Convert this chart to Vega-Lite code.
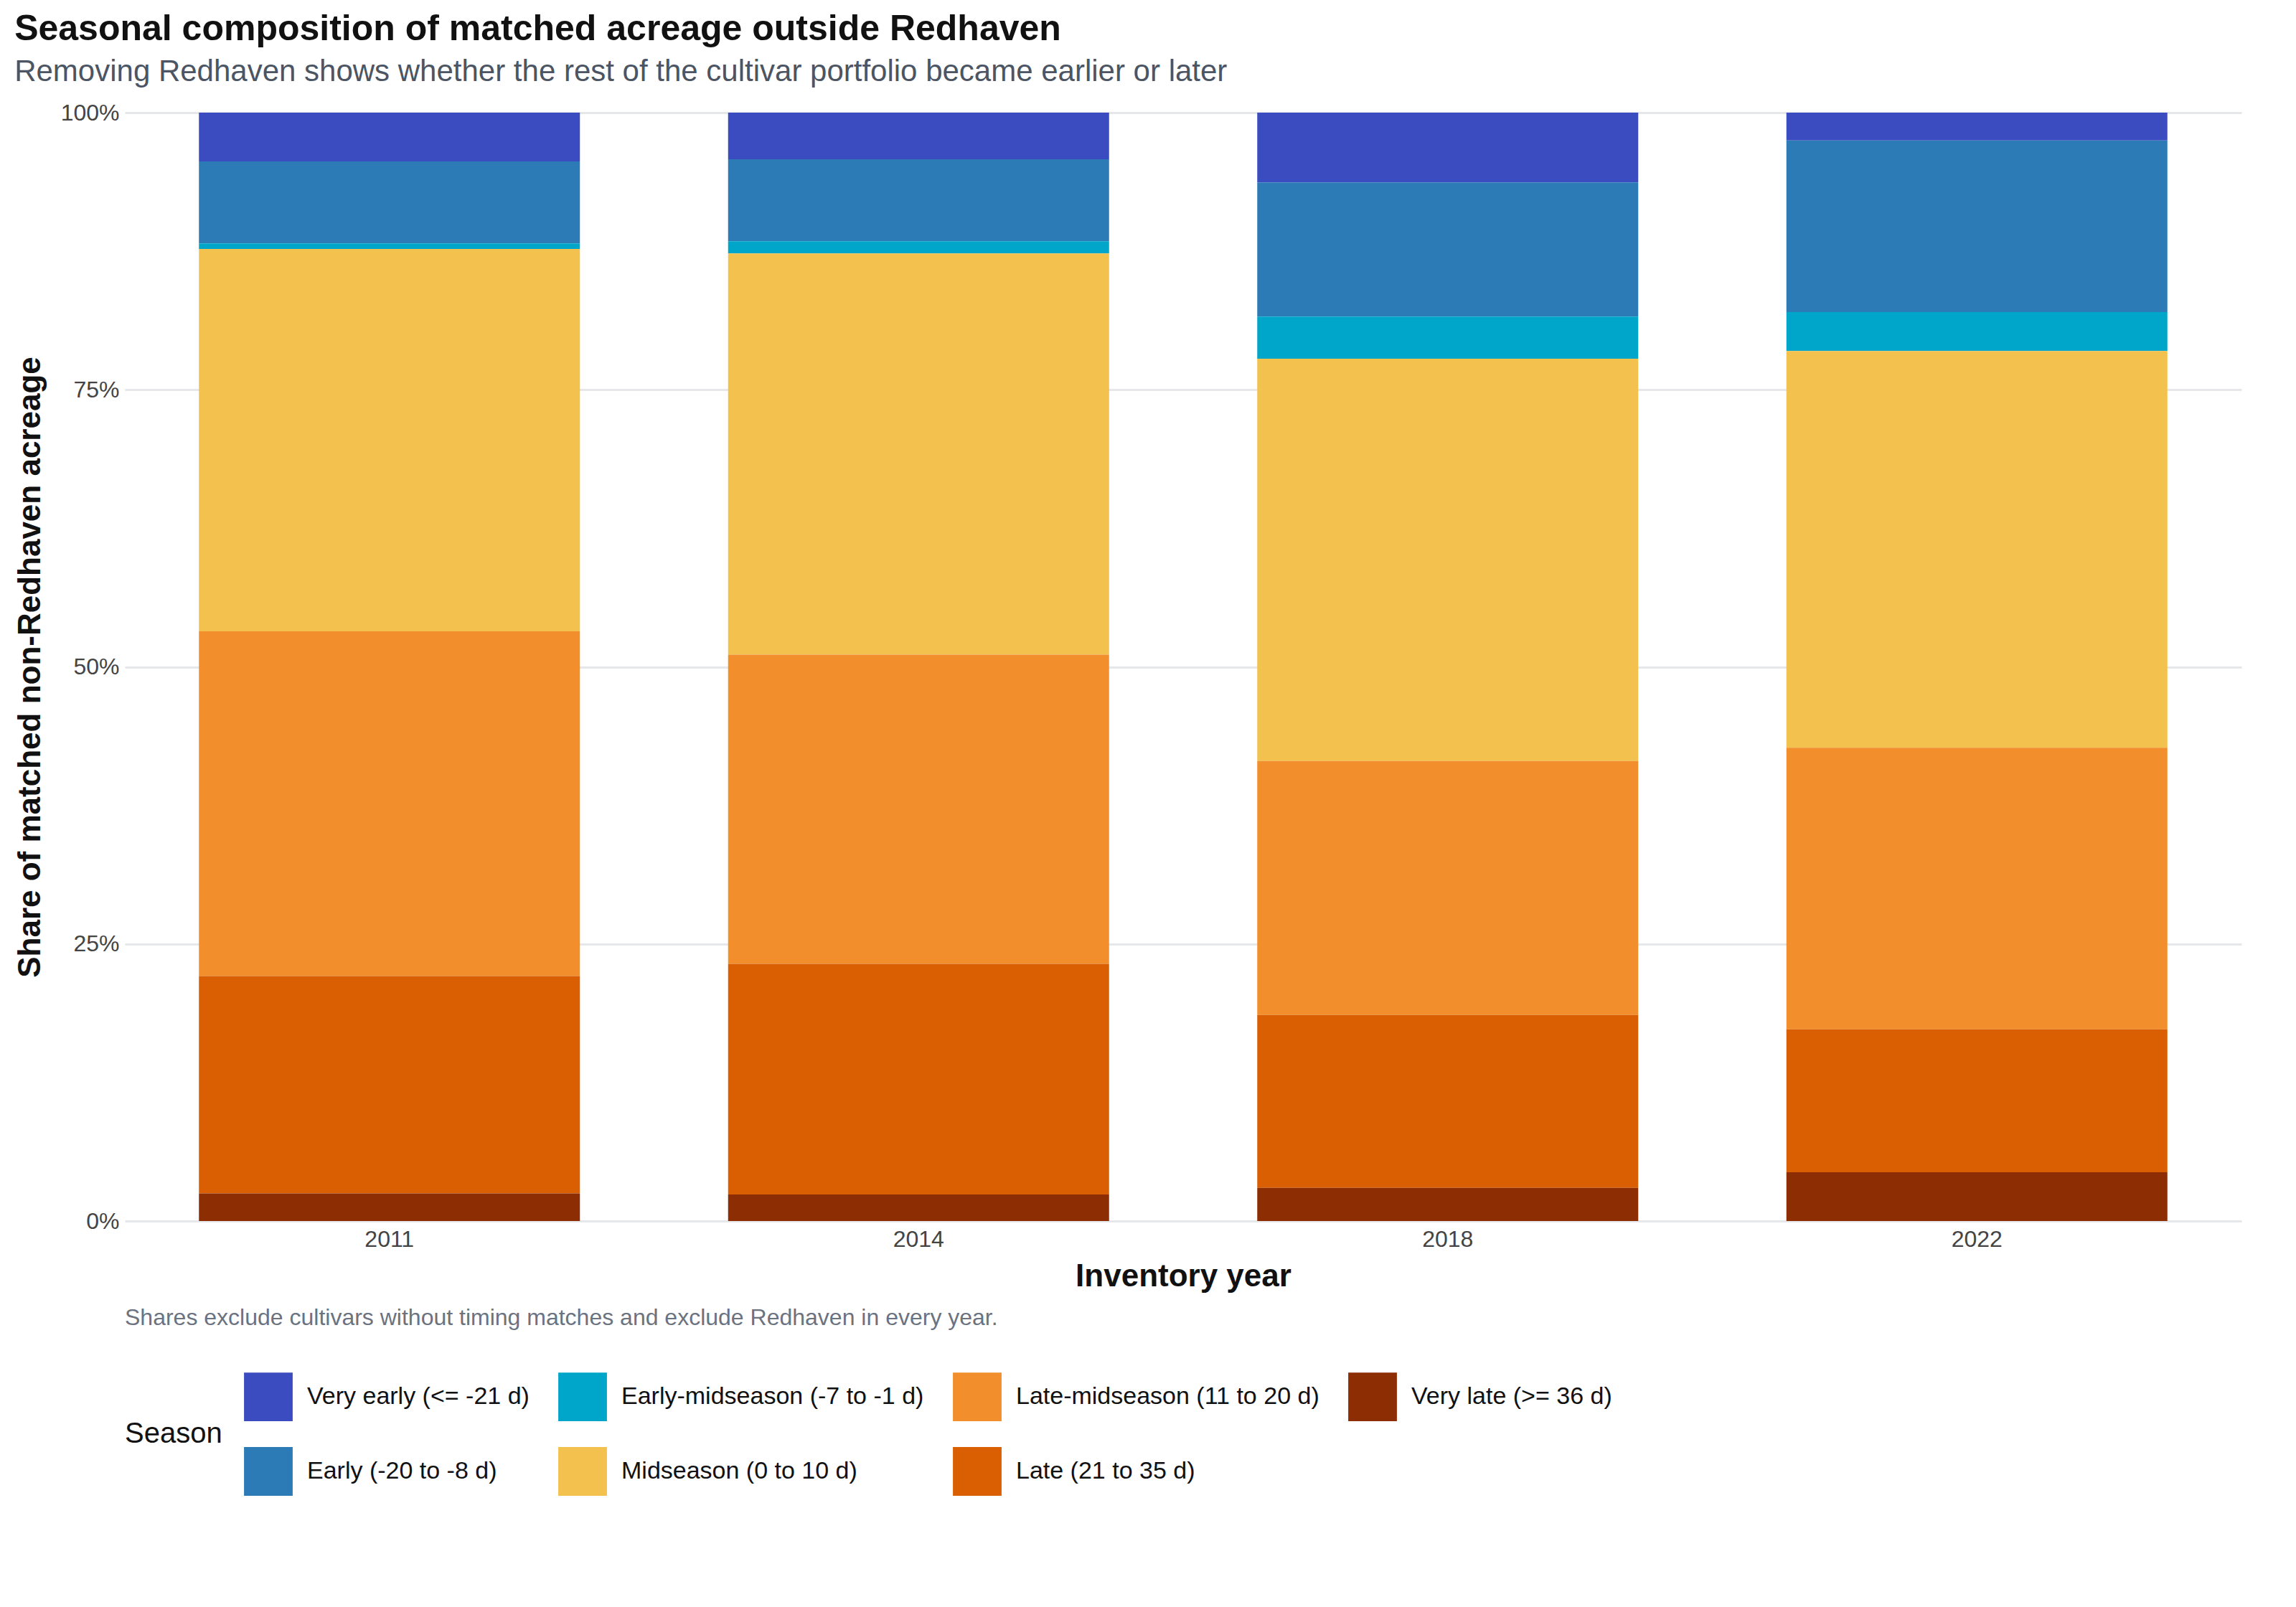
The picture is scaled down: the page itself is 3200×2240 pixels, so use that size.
{
  "$schema": "https://vega.github.io/schema/vega-lite/v6.json",
  "background": "white",
  "padding": {"left": 20, "right": 30, "top": 16, "bottom": 20},
  "title": {
    "text": "Seasonal composition of matched acreage outside Redhaven",
    "subtitle": "Removing Redhaven shows whether the rest of the cultivar portfolio became earlier or later",
    "anchor": "start", "font": "Liberation Sans", "fontSize": 50, "fontWeight": "bold", "color": "#111",
    "subtitleFont": "Liberation Sans", "subtitleFontSize": 42, "subtitleColor": "#4B5563", "subtitlePadding": 14, "offset": 20
  },
  "config": {"view": {"stroke": null}, "font": "Liberation Sans"},
  "vconcat": [
    {
      "width": 2950,
      "height": 1545,
      "data": {"values": [
        {"year": "2011", "season": "Very early (<= -21 d)", "o": 7, "share": 4.4},
        {"year": "2011", "season": "Early (-20 to -8 d)", "o": 6, "share": 7.4},
        {"year": "2011", "season": "Early-midseason (-7 to -1 d)", "o": 5, "share": 0.5},
        {"year": "2011", "season": "Midseason (0 to 10 d)", "o": 4, "share": 34.5},
        {"year": "2011", "season": "Late-midseason (11 to 20 d)", "o": 3, "share": 31.1},
        {"year": "2011", "season": "Late (21 to 35 d)", "o": 2, "share": 19.6},
        {"year": "2011", "season": "Very late (>= 36 d)", "o": 1, "share": 2.5},
        {"year": "2014", "season": "Very early (<= -21 d)", "o": 7, "share": 4.2},
        {"year": "2014", "season": "Early (-20 to -8 d)", "o": 6, "share": 7.4},
        {"year": "2014", "season": "Early-midseason (-7 to -1 d)", "o": 5, "share": 1.1},
        {"year": "2014", "season": "Midseason (0 to 10 d)", "o": 4, "share": 36.2},
        {"year": "2014", "season": "Late-midseason (11 to 20 d)", "o": 3, "share": 27.9},
        {"year": "2014", "season": "Late (21 to 35 d)", "o": 2, "share": 20.8},
        {"year": "2014", "season": "Very late (>= 36 d)", "o": 1, "share": 2.4},
        {"year": "2018", "season": "Very early (<= -21 d)", "o": 7, "share": 6.3},
        {"year": "2018", "season": "Early (-20 to -8 d)", "o": 6, "share": 12.1},
        {"year": "2018", "season": "Early-midseason (-7 to -1 d)", "o": 5, "share": 3.8},
        {"year": "2018", "season": "Midseason (0 to 10 d)", "o": 4, "share": 36.3},
        {"year": "2018", "season": "Late-midseason (11 to 20 d)", "o": 3, "share": 22.9},
        {"year": "2018", "season": "Late (21 to 35 d)", "o": 2, "share": 15.6},
        {"year": "2018", "season": "Very late (>= 36 d)", "o": 1, "share": 3.0},
        {"year": "2022", "season": "Very early (<= -21 d)", "o": 7, "share": 2.5},
        {"year": "2022", "season": "Early (-20 to -8 d)", "o": 6, "share": 15.5},
        {"year": "2022", "season": "Early-midseason (-7 to -1 d)", "o": 5, "share": 3.5},
        {"year": "2022", "season": "Midseason (0 to 10 d)", "o": 4, "share": 35.8},
        {"year": "2022", "season": "Late-midseason (11 to 20 d)", "o": 3, "share": 25.4},
        {"year": "2022", "season": "Late (21 to 35 d)", "o": 2, "share": 12.9},
        {"year": "2022", "season": "Very late (>= 36 d)", "o": 1, "share": 4.4}
      ]},
      "mark": {"type": "bar"},
      "encoding": {
        "x": {
          "field": "year", "type": "ordinal",
          "scale": {"paddingInner": 0.28, "paddingOuter": 0.14},
          "axis": {"title": "Inventory year", "labelAngle": 0, "labelFontSize": 32, "labelColor": "#444", "titleFontSize": 44, "titleColor": "#111", "titleFontWeight": "bold", "domain": false, "ticks": false, "labelPadding": 10, "titlePadding": 14}
        },
        "y": {
          "field": "share", "type": "quantitative", "stack": "normalize",
          "axis": {"title": "Share of matched non-Redhaven acreage", "format": ".0%", "values": [0, 0.25, 0.5, 0.75, 1], "labelFontSize": 32, "labelColor": "#444", "titleFontSize": 44, "titleColor": "#111", "titleFontWeight": "bold", "domain": false, "ticks": false, "gridColor": "#E5E7EB", "gridWidth": 3, "labelPadding": 8, "titlePadding": 20}
        },
        "order": {"field": "o", "type": "quantitative"},
        "color": {
          "field": "season", "type": "nominal", "title": "Season",
          "scale": {
            "domain": ["Very early (<= -21 d)", "Early-midseason (-7 to -1 d)", "Late-midseason (11 to 20 d)", "Very late (>= 36 d)", "Early (-20 to -8 d)", "Midseason (0 to 10 d)", "Late (21 to 35 d)"],
            "range": ["#3B4CC0", "#00A6CA", "#F28E2B", "#8C2D04", "#2C7BB6", "#F2C14E", "#D95F02"]
          },
          "legend": {"orient": "bottom", "direction": "horizontal", "columns": 4, "titleOrient": "left", "titleFontSize": 40, "titleFontWeight": "normal", "titleColor": "#111", "labelFontSize": 34, "labelColor": "#111", "symbolType": "square", "symbolSize": 4600, "symbolStrokeWidth": 0, "symbolOpacity": 1, "rowPadding": 36, "columnPadding": 40, "labelOffset": 20, "labelLimit": 700, "offset": 60, "titlePadding": 30}
        }
      }
    },
    {
      "width": 2950,
      "height": 30,
      "data": {"values": [{"t": "Shares exclude cultivars without timing matches and exclude Redhaven in every year."}]},
      "mark": {"type": "text", "align": "left", "fontSize": 32, "color": "#6B7280", "font": "Liberation Sans", "dx": 0},
      "encoding": {"text": {"field": "t"}, "x": {"value": 0}}
    }
  ]
}
